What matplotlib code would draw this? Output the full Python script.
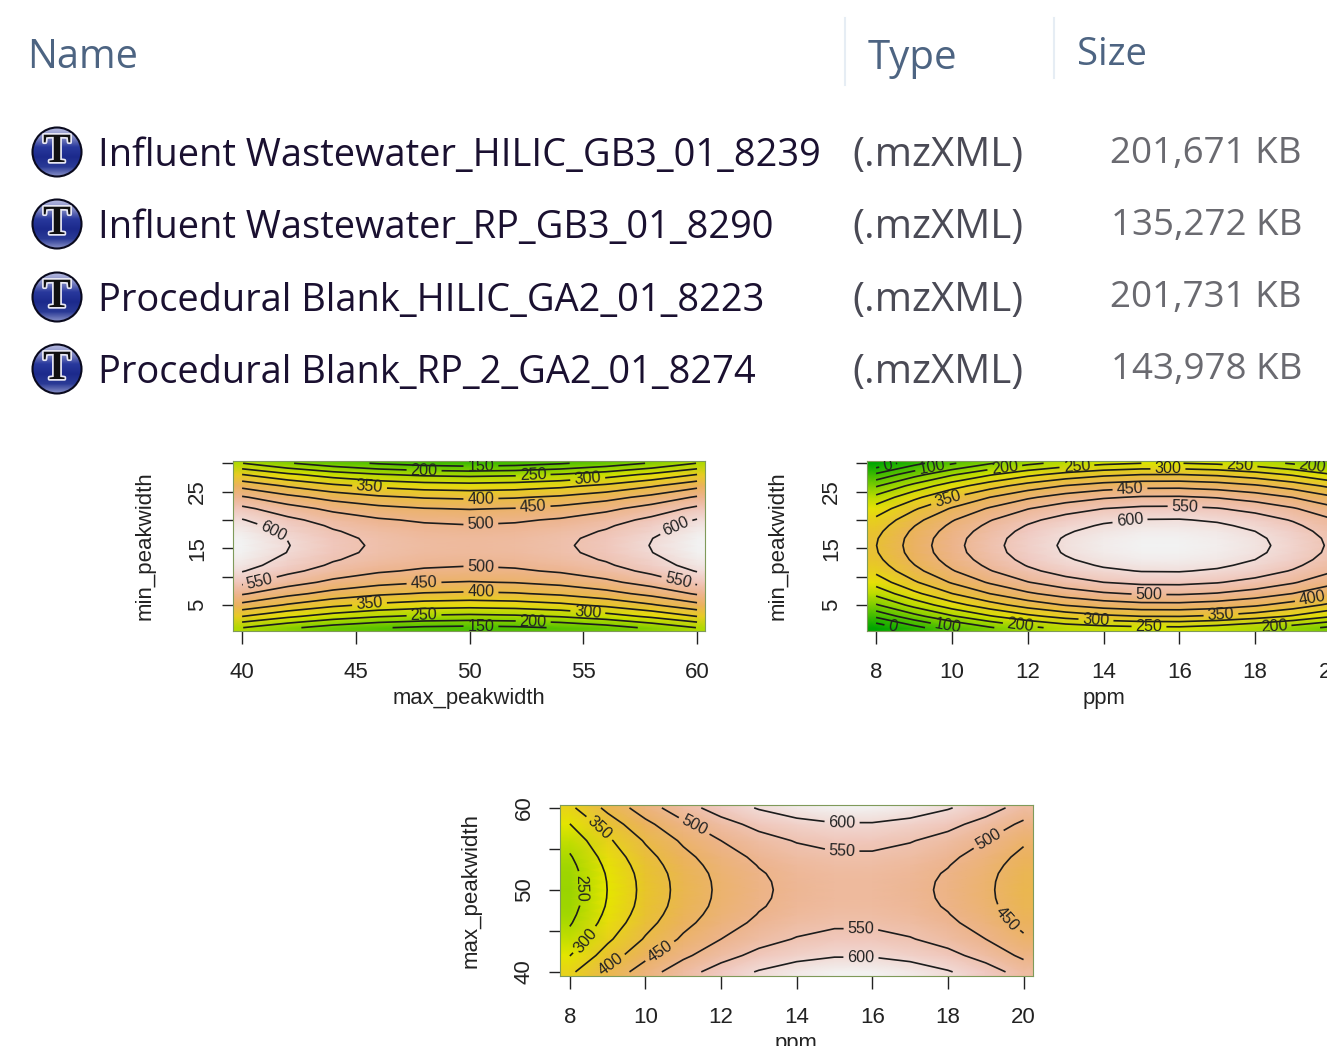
import matplotlib
matplotlib.use('Agg')
import matplotlib.pyplot as plt
import matplotlib.patheffects as pe
from matplotlib.colors import LinearSegmentedColormap
from matplotlib.patches import Circle
import numpy as np

W, H = 1327, 1046

# file table at the top
file_names = ['Influent Wastewater_HILIC_GB3_01_8239', 'Influent Wastewater_RP_GB3_01_8290',
              'Procedural Blank_HILIC_GA2_01_8223', 'Procedural Blank_RP_2_GA2_01_8274']
file_types = ['(.mzXML)', '(.mzXML)', '(.mzXML)', '(.mzXML)']
file_sizes = ['201,671 KB', '135,272 KB', '201,731 KB', '143,978 KB']

# response surfaces
min_pw = [1, 3, 5, 7, 9, 11, 12, 13, 14.25, 15.5, 16.75, 18, 19, 20, 22, 24, 26, 28, 30]
max_pw_a = [40, 42, 44, 46, 48, 50, 52, 54, 56, 58, 60]
ppm = [8, 9, 10, 11, 12, 13, 14, 15, 16, 17, 18, 19, 20]
max_pw_b = [40, 42, 44, 46, 47, 48, 49, 50, 51, 52, 53, 54, 56, 58, 60]

z_min_max = [
    [251, 210, 177, 154, 141, 136, 141, 154, 177, 210, 251],
    [351, 310, 277, 254, 241, 236, 241, 254, 277, 310, 351],
    [436, 395, 362, 339, 326, 321, 326, 339, 362, 395, 436],
    [506, 465, 432, 409, 396, 391, 396, 409, 432, 465, 506],
    [562, 521, 488, 465, 452, 447, 452, 465, 488, 521, 562],
    [603, 562, 529, 506, 493, 488, 493, 506, 529, 562, 603],
    [617, 579, 543, 520, 507, 502, 507, 520, 543, 579, 617],
    [628, 587, 554, 531, 518, 513, 518, 531, 554, 587, 628],
    [637, 599, 563, 540, 527, 522, 527, 540, 563, 599, 637],
    [640, 602, 566, 543, 530, 525, 530, 543, 566, 602, 640],
    [637, 599, 563, 540, 527, 522, 527, 540, 563, 599, 637],
    [628, 587, 554, 531, 518, 513, 518, 531, 554, 587, 628],
    [617, 579, 543, 520, 507, 502, 507, 520, 543, 579, 617],
    [603, 562, 529, 506, 493, 488, 493, 506, 529, 562, 603],
    [562, 521, 488, 465, 452, 447, 452, 465, 488, 521, 562],
    [506, 465, 432, 409, 396, 391, 396, 409, 432, 465, 506],
    [436, 395, 362, 339, 326, 321, 326, 339, 362, 395, 436],
    [351, 310, 277, 254, 241, 236, 241, 254, 277, 310, 351],
    [251, 205, 170, 145, 128, 120, 128, 145, 170, 205, 251],
]
z_min_ppm = [
    [-40, 32, 94, 145, 187, 218, 232, 240, 242, 228, 203, 175, 140],
    [60, 132, 194, 245, 287, 318, 339, 350, 351, 342, 323, 294, 254],
    [145, 217, 279, 330, 372, 403, 424, 435, 436, 427, 408, 379, 339],
    [215, 287, 349, 400, 442, 473, 494, 505, 506, 497, 478, 449, 409],
    [271, 343, 405, 456, 498, 529, 550, 561, 562, 553, 534, 505, 465],
    [312, 384, 446, 497, 539, 570, 591, 602, 603, 594, 575, 546, 506],
    [326, 398, 460, 511, 553, 584, 605, 616, 617, 608, 589, 560, 520],
    [337, 409, 471, 522, 564, 595, 616, 627, 628, 619, 600, 571, 531],
    [346, 418, 480, 531, 573, 604, 625, 636, 637, 628, 609, 580, 540],
    [349, 421, 483, 534, 576, 607, 628, 639, 640, 631, 612, 583, 543],
    [346, 418, 480, 531, 573, 604, 625, 636, 637, 628, 609, 580, 540],
    [337, 409, 471, 522, 564, 595, 616, 627, 628, 619, 600, 571, 531],
    [326, 398, 460, 511, 553, 584, 605, 616, 617, 608, 589, 560, 520],
    [312, 384, 446, 497, 539, 570, 591, 602, 603, 594, 575, 546, 506],
    [271, 343, 405, 456, 498, 529, 550, 561, 562, 553, 534, 505, 465],
    [215, 287, 349, 400, 442, 473, 494, 505, 506, 497, 478, 449, 409],
    [145, 217, 279, 330, 372, 403, 424, 435, 436, 427, 408, 379, 339],
    [60, 132, 194, 245, 287, 318, 339, 350, 351, 342, 323, 294, 254],
    [-40, 32, 94, 145, 187, 218, 239, 250, 251, 242, 223, 194, 154],
]
z_max_ppm = [
    [339, 413, 477, 530, 572, 604, 625, 636, 636, 625, 604, 572, 530],
    [299, 373, 437, 490, 532, 564, 585, 596, 596, 585, 564, 532, 490],
    [267, 341, 405, 458, 500, 532, 553, 564, 564, 553, 532, 500, 458],
    [245, 319, 383, 436, 478, 510, 531, 542, 542, 531, 510, 478, 436],
    [237, 311, 375, 428, 470, 502, 523, 534, 534, 523, 502, 470, 428],
    [231, 305, 369, 422, 464, 496, 517, 528, 528, 517, 496, 464, 422],
    [228, 302, 366, 419, 461, 493, 514, 525, 525, 514, 493, 461, 419],
    [227, 301, 365, 418, 460, 492, 513, 524, 524, 513, 492, 460, 418],
    [228, 302, 366, 419, 461, 493, 514, 525, 525, 514, 493, 461, 419],
    [231, 305, 369, 422, 464, 496, 517, 528, 528, 517, 496, 464, 422],
    [237, 311, 375, 428, 470, 502, 523, 534, 534, 523, 502, 470, 428],
    [245, 319, 383, 436, 478, 510, 531, 542, 542, 531, 510, 478, 436],
    [267, 341, 405, 458, 500, 532, 553, 564, 564, 553, 532, 500, 458],
    [299, 373, 437, 490, 532, 564, 585, 596, 596, 585, 564, 532, 490],
    [339, 413, 477, 530, 572, 604, 625, 636, 636, 625, 604, 572, 530],
]
contour_levels = [0, 50, 100, 150, 200, 250, 300, 350, 400, 450, 500, 550, 600]

# where the contour labels sit
spots_min_max = [(50.5, 29.3), (48, 28.6), (52.8, 27.4), (55.2, 26.9), (45.6, 25.6), (50.5, 23.3),
                 (52.8, 21.75), (50.5, 18.8), (41.3, 17.5), (59.25, 17.5), (40.8, 8.9), (59.2, 9.6),
                 (50.5, 12), (48, 8.7), (50.5, 7.3), (45.6, 5.2), (55.2, 3.9), (48, 3), (52.8, 2.4),
                 (50.5, 1.3)]
spots_min_ppm = [(8.3, 29.7), (9.5, 28.8), (11.4, 29), (13.3, 29.3), (15.7, 29), (17.6, 29.3),
                 (19.5, 29), (9.9, 23.5), (14.7, 25.3), (16.15, 22.3), (14.7, 19.8), (15.2, 6.6),
                 (19.5, 6.4), (17.1, 3.2), (13.8, 2.2), (15.2, 1.2), (18.5, 1.05), (11.8, 1.2),
                 (9.9, 1.3), (8.45, 1.5)]
spots_max_ppm = [(15.2, 58.3), (15.2, 55.1), (15.7, 41.7), (15.7, 45), (11.3, 57.9), (8.8, 57.6),
                 (8.3, 50.2), (8.4, 43.9), (9.06, 41), (10.35, 42.7), (19.06, 56.3), (19.5, 46.2)]

# terrain.colors(10) from R
terrain = LinearSegmentedColormap.from_list('terrain_r', [
    '#00A600', '#2DB600', '#63C600', '#A0D600', '#E6E600',
    '#E8C32E', '#EBB25E', '#EDB48E', '#F0C9C0', '#F2F2F2'])

plt.rcParams['font.family'] = ['Liberation Sans', 'DejaVu Sans']
fig = plt.figure(figsize=(W / 100, H / 100), dpi=100)
fig.patch.set_facecolor('white')


def panel(box, x, y, z, xlim, ylim, xticks, yticks, ylabels, xlabel, ylabel, spots, vmin, vmax):
    left, top, right, bottom = box
    ax = fig.add_axes([left / W, 1 - bottom / H, (right - left) / W, (bottom - top) / H])
    z = np.array(z, dtype=float)
    # image runs a little past the contours, so pad the grid for it
    xe = np.r_[xlim[0], x, xlim[1]]
    ye = np.r_[ylim[0], y, ylim[1]]
    ax.pcolormesh(xe, ye, np.pad(z, 1, mode='edge'), shading='gouraud', cmap=terrain, vmin=vmin, vmax=vmax)
    cs = ax.contour(x, y, z, levels=contour_levels, colors='#1c1c1c', linewidths=1.2)
    ax.clabel(cs, manual=spots, inline=True, inline_spacing=4, fmt='%d', fontsize=11.6, colors='#222222')
    ax.set_xlim(xlim)
    ax.set_ylim(ylim)
    ax.set_xticks(xticks)
    ax.set_yticks(yticks)
    ax.set_yticklabels(ylabels, rotation=90, va='center')
    ax.tick_params(axis='x', length=9.4, width=1, pad=13, labelsize=16, color='#222222', labelcolor='#222222')
    ax.tick_params(axis='y', length=8, width=1, pad=10, labelsize=16, color='#222222', labelcolor='#222222')
    ax.set_xlabel(xlabel, fontsize=15.8, color='#222222')
    ax.set_ylabel(ylabel, fontsize=16, color='#222222')
    ax.xaxis.set_label_coords(0.5, -0.335)
    ax.yaxis.set_label_coords(-0.165, 0.5)
    for s in ax.spines.values():
        s.set_color('#7f9a5a')
        s.set_linewidth(0.8)
    return ax


panel((233, 461, 705, 631), max_pw_a, min_pw, z_min_max, (39.6, 60.35), (0.41, 30.4),
      [40, 45, 50, 55, 60], [5, 10, 15, 20, 25, 30], ['5', '', '15', '', '25', ''],
      'max_peakwidth', 'min_peakwidth', spots_min_max, 30, 640)
panel((867, 461, 1340, 631), ppm, min_pw, z_min_ppm, (7.76, 20.24), (0.41, 30.4),
      [8, 10, 12, 14, 16, 18, 20], [5, 10, 15, 20, 25, 30], ['5', '', '15', '', '25', ''],
      'ppm', 'min_peakwidth', spots_min_ppm, -40, 640)
panel((560, 805, 1033, 976), ppm, max_pw_b, z_max_ppm, (7.74, 20.25), (39.5, 60.35),
      [8, 10, 12, 14, 16, 18, 20], [40, 45, 50, 55, 60], ['40', '', '50', '', '60'],
      'ppm', 'max_peakwidth', spots_max_ppm, 30, 640)

# overlay in pixel coordinates for the screenshot part
ov = fig.add_axes([0, 0, 1, 1], facecolor='none')
ov.set_xlim(0, W)
ov.set_ylim(H, 0)
ov.axis('off')

header = '#4d6482'
ov.text(27, 58, 'Name', fontsize=28.5, color=header, family='Open Sans', va='center')
ov.text(868, 59, 'Type', fontsize=29, color=header, family='Open Sans', va='center')
ov.text(1077, 55, 'Size', fontsize=27.5, color=header, family='Open Sans', va='center')
ov.plot([845, 845], [18, 85], color='#e6edf4', lw=1.5)
ov.plot([1054, 1054], [18, 78], color='#e6edf4', lw=1.5)

ball = LinearSegmentedColormap.from_list('ball', ['#b9bde2', '#8088c4', '#28389c', '#1c2a8c', '#2a3a96', '#8a92c8'])
name_y = [156, 228, 301, 373]
size_y = [154, 226, 298, 370]
icon_y = [152, 224, 297, 369]
for name, kind, size, yn, ys, yi in zip(file_names, file_types, file_sizes, name_y, size_y, icon_y):
    c = Circle((57, yi), 24.5, facecolor='none', edgecolor='#0a0a1e', lw=1.5, zorder=3)
    ov.add_patch(c)
    im = ov.imshow(np.linspace(0, 1, 50).reshape(-1, 1), cmap=ball, aspect='auto',
                   extent=(32, 82, yi + 25, yi - 25), zorder=2)
    im.set_clip_path(c)
    ov.text(57, yi, 'T', fontsize=30, family='Liberation Serif', weight='bold', color='#101010',
            ha='center', va='center', zorder=4,
            path_effects=[pe.withStroke(linewidth=2.5, foreground='#e8e8f4')])
    ov.text(98, yn, name, fontsize=27.4, color='#1a1030', family='Open Sans', va='center')
    ov.text(852, yn, kind, fontsize=29, color='#4a4a55', family='Open Sans', va='center')
    ov.text(1302, ys, size, fontsize=26.5, color='#6a6a70', family='Open Sans', va='center', ha='right')
ov.set_xlim(0, W)
ov.set_ylim(H, 0)

fig.savefig('out.png', dpi=100)
